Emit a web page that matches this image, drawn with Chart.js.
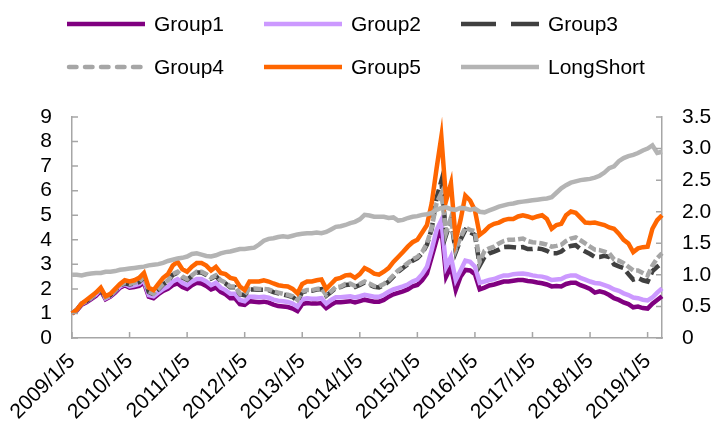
<!DOCTYPE html>
<html>
<head>
<meta charset="utf-8">
<script src="https://cdn.jsdelivr.net/npm/chart.js@4.4.1/dist/chart.umd.min.js"></script>
<style>
  body { margin: 0; background: #fff; }
  #wrap { width: 723px; height: 435px; }
</style>
</head>
<body>
<div id="wrap"><canvas id="chart" width="723" height="435"></canvas></div>
<script>
// monthly samples, 2009/1/5 .. 2019/4/5
const tickLabels = ['2009/1/5', '2010/1/5', '2011/1/5', '2012/1/5', '2013/1/5', '2014/1/5',
    '2015/1/5', '2016/1/5', '2017/1/5', '2018/1/5', '2019/1/5'];

const months = [];
for (let y = 2009; y <= 2019; y++) {
    for (let m = 1; m <= 12; m++) {
        if (y === 2019 && m > 4) break;
        months.push(y + '/' + m + '/5');
    }
}

const group1 = [
    1.00, 1.12, 1.35, 1.45, 1.58, 1.72, 1.93, 1.58, 1.68, 1.85, 2.05, 2.15,
    2.05, 2.08, 2.12, 2.25, 1.68, 1.62, 1.78, 1.92, 2.00, 2.15, 2.22, 2.08,
    2.00, 2.15, 2.25, 2.22, 2.12, 1.98, 2.05, 1.88, 1.78, 1.62, 1.62, 1.38,
    1.35, 1.50, 1.48, 1.46, 1.48, 1.44, 1.36, 1.30, 1.28, 1.26, 1.20, 1.10,
    1.38, 1.42, 1.40, 1.40, 1.42, 1.22, 1.35, 1.46, 1.46, 1.48, 1.50, 1.45,
    1.50, 1.56, 1.52, 1.48, 1.48, 1.55, 1.68, 1.78, 1.84, 1.90, 1.98, 2.10,
    2.16, 2.35, 2.63, 3.30, 4.00, 4.50, 2.50, 2.90, 1.96, 2.50, 2.77, 2.75,
    2.60, 1.98, 2.05, 2.14, 2.18, 2.24, 2.30, 2.30, 2.33, 2.36, 2.36, 2.32,
    2.30, 2.26, 2.23, 2.18, 2.10, 2.12, 2.10, 2.20, 2.25, 2.25, 2.15, 2.08,
    2.00, 1.85, 1.90, 1.85, 1.75, 1.62, 1.55, 1.45, 1.38, 1.25, 1.28, 1.22,
    1.20, 1.40, 1.55, 1.70
];
const group2 = [
    1.00, 1.15, 1.40, 1.50, 1.62, 1.78, 2.00, 1.62, 1.72, 1.90, 2.10, 2.20,
    2.10, 2.15, 2.20, 2.35, 1.75, 1.70, 1.85, 2.00, 2.10, 2.30, 2.40, 2.25,
    2.15, 2.30, 2.40, 2.40, 2.30, 2.15, 2.25, 2.05, 1.95, 1.80, 1.80, 1.55,
    1.50, 1.68, 1.68, 1.66, 1.68, 1.64, 1.56, 1.52, 1.50, 1.47, 1.40, 1.28,
    1.58, 1.62, 1.60, 1.60, 1.62, 1.40, 1.55, 1.66, 1.66, 1.68, 1.70, 1.65,
    1.70, 1.76, 1.72, 1.68, 1.68, 1.76, 1.88, 1.98, 2.04, 2.10, 2.18, 2.30,
    2.38, 2.60, 2.90, 3.60, 4.40, 4.80, 2.90, 3.30, 2.36, 2.75, 3.15, 3.10,
    2.90, 2.25, 2.30, 2.36, 2.40, 2.48, 2.55, 2.55, 2.60, 2.62, 2.63, 2.60,
    2.55, 2.52, 2.50, 2.45, 2.36, 2.38, 2.40, 2.50, 2.55, 2.55, 2.45, 2.38,
    2.30, 2.24, 2.22, 2.15, 2.08, 1.98, 1.92, 1.82, 1.75, 1.65, 1.62, 1.56,
    1.53, 1.65, 1.85, 2.02
];
const group3 = [
    1.00, 1.15, 1.40, 1.50, 1.64, 1.78, 1.98, 1.64, 1.74, 1.93, 2.13, 2.23,
    2.18, 2.22, 2.28, 2.47, 1.88, 1.78, 1.98, 2.18, 2.32, 2.57, 2.66, 2.47,
    2.37, 2.52, 2.67, 2.67, 2.57, 2.42, 2.52, 2.32, 2.22, 2.07, 2.07, 1.78,
    1.74, 1.97, 1.98, 1.97, 1.97, 1.95, 1.87, 1.82, 1.77, 1.73, 1.67, 1.52,
    1.87, 1.92, 1.92, 1.97, 1.99, 1.72, 1.87, 2.05, 2.07, 2.16, 2.18, 2.08,
    2.16, 2.26, 2.18, 2.08, 2.06, 2.16, 2.30, 2.50, 2.70, 2.85, 3.00, 3.15,
    3.25, 3.45, 3.80, 4.45, 5.70, 6.40, 4.20, 4.80, 3.50, 4.00, 4.40, 4.30,
    4.20, 2.95, 3.30, 3.45, 3.52, 3.60, 3.70, 3.72, 3.70, 3.68, 3.70, 3.62,
    3.62, 3.65, 3.62, 3.55, 3.45, 3.45, 3.52, 3.68, 3.75, 3.78, 3.62, 3.52,
    3.42, 3.30, 3.30, 3.35, 3.30, 3.00, 2.92, 2.85, 2.60, 2.38, 2.45, 2.35,
    2.30, 2.72, 2.90, 3.05
];
const group4 = [
    1.00, 1.15, 1.40, 1.50, 1.65, 1.80, 2.00, 1.65, 1.75, 1.95, 2.15, 2.25,
    2.20, 2.25, 2.30, 2.50, 1.90, 1.80, 2.00, 2.20, 2.35, 2.60, 2.70, 2.50,
    2.40, 2.55, 2.70, 2.70, 2.60, 2.45, 2.55, 2.35, 2.25, 2.10, 2.10, 1.80,
    1.78, 2.00, 2.02, 2.00, 2.00, 1.98, 1.90, 1.85, 1.80, 1.76, 1.70, 1.55,
    1.90, 1.95, 1.95, 2.00, 2.02, 1.75, 1.90, 2.08, 2.10, 2.20, 2.22, 2.12,
    2.20, 2.30, 2.22, 2.12, 2.10, 2.20, 2.35, 2.55, 2.75, 2.90, 3.05, 3.20,
    3.30, 3.50, 3.85, 4.50, 5.50, 5.90, 4.30, 4.90, 3.60, 4.10, 4.50, 4.40,
    4.35, 3.10, 3.55, 3.65, 3.72, 3.85, 3.95, 4.00, 4.00, 4.02, 4.05, 3.95,
    3.90, 3.88, 3.85, 3.80, 3.72, 3.75, 3.80, 3.95, 4.05, 4.10, 3.98, 3.85,
    3.72, 3.60, 3.58, 3.52, 3.45, 3.20, 3.15, 3.05, 2.90, 2.75, 2.75, 2.65,
    2.55, 2.95, 3.25, 3.45
];
const group5 = [
    1.00, 1.15, 1.40, 1.55, 1.70, 1.85, 2.05, 1.70, 1.80, 2.00, 2.20, 2.35,
    2.30, 2.35, 2.45, 2.65, 2.05, 1.95, 2.20, 2.45, 2.60, 2.95, 3.10, 2.80,
    2.70, 2.90, 3.05, 3.05, 2.95, 2.75, 2.90, 2.65, 2.60, 2.45, 2.40, 2.10,
    1.95, 2.30, 2.30, 2.30, 2.35, 2.30, 2.22, 2.15, 2.12, 2.10, 2.00, 1.82,
    2.20, 2.30, 2.30, 2.35, 2.38, 2.00, 2.20, 2.40, 2.45, 2.55, 2.57, 2.45,
    2.60, 2.85, 2.75, 2.62, 2.58, 2.70, 2.85, 3.10, 3.30, 3.50, 3.72, 3.90,
    4.00, 4.30, 4.60, 5.50, 6.90, 8.20, 5.60, 6.30, 4.00, 4.80, 5.80, 5.60,
    5.20, 4.20, 4.35, 4.55, 4.65, 4.70, 4.80, 4.85, 4.85, 4.95, 5.00, 4.95,
    4.88, 4.95, 5.00, 4.85, 4.45, 4.60, 4.65, 5.00, 5.15, 5.10, 4.90, 4.70,
    4.68, 4.70, 4.65, 4.60, 4.50, 4.45, 4.25, 4.00, 3.85, 3.50, 3.65, 3.70,
    3.72, 4.45, 4.80, 5.00
];
const longShort = [
    1.00, 1.00, 0.99, 1.01, 1.02, 1.03, 1.03, 1.05, 1.05, 1.06, 1.08, 1.09,
    1.10, 1.11, 1.12, 1.13, 1.15, 1.16, 1.17, 1.19, 1.22, 1.24, 1.26, 1.27,
    1.29, 1.33, 1.34, 1.32, 1.30, 1.29, 1.31, 1.34, 1.36, 1.37, 1.39, 1.41,
    1.41, 1.42, 1.43, 1.48, 1.54, 1.57, 1.58, 1.60, 1.61, 1.60, 1.62, 1.64,
    1.65, 1.66, 1.66, 1.67, 1.66, 1.68, 1.72, 1.76, 1.77, 1.79, 1.82, 1.84,
    1.88, 1.95, 1.94, 1.92, 1.92, 1.92, 1.90, 1.91, 1.86, 1.87, 1.90, 1.92,
    1.93, 1.95, 1.96, 1.98, 2.03, 2.06, 2.07, 2.04, 2.03, 2.06, 2.05, 2.03,
    2.05, 2.00, 1.99, 2.02, 2.05, 2.08, 2.10, 2.12, 2.13, 2.15, 2.16, 2.17,
    2.18, 2.19, 2.20, 2.21, 2.23, 2.30, 2.37, 2.42, 2.46, 2.48, 2.50, 2.51,
    2.52, 2.54, 2.57, 2.62, 2.69, 2.72, 2.80, 2.85, 2.88, 2.90, 2.93, 2.97,
    3.00, 3.05, 2.93, 2.95
];

const FONT = '"Liberation Sans", Arial, sans-serif';
const FONT_SIZE = 21;
const AXIS_COLOR = '#a6a6a6';

// legend drawn on a fixed 3x2 grid like the original
const legendGrid = {
    id: 'legendGrid',
    afterDraw(chart) {
        const ctx = chart.ctx;
        const cols = [67, 264, 461];
        const rows = [24, 67];
        const dashes = [[], [], [35, 15], [7.5, 8.5], [], []];
        ctx.save();
        ctx.font = FONT_SIZE + 'px ' + FONT;
        ctx.textBaseline = 'middle';
        chart.data.datasets.forEach((ds, i) => {
            const x = cols[i % 3], y = rows[Math.floor(i / 3)];
            ctx.strokeStyle = ds.borderColor;
            ctx.lineWidth = 4.5;
            ctx.lineCap = i === 3 ? 'round' : 'butt';
            ctx.setLineDash(dashes[i]);
            ctx.beginPath();
            ctx.moveTo(i === 3 ? x + 2 : x, y);
            ctx.lineTo(x + 78, y);
            ctx.stroke();
            ctx.setLineDash([]);
            ctx.fillStyle = '#000';
            ctx.fillText(ds.label, x + 87, y + 1);
        });
        ctx.restore();
    }
};

// short tick marks pointing into the plot
const innerTicks = {
    id: 'innerTicks',
    afterDraw(chart) {
        const ctx = chart.ctx;
        const { x, y, y1 } = chart.scales;
        const area = chart.chartArea;
        ctx.save();
        ctx.strokeStyle = AXIS_COLOR;
        ctx.lineWidth = 1.5;
        ctx.beginPath();
        tickLabels.forEach(lab => {
            const px = x.getPixelForValue(months.indexOf(lab));
            ctx.moveTo(px, area.bottom);
            ctx.lineTo(px, area.bottom - 6);
        });
        y.ticks.forEach(t => {
            const py = y.getPixelForValue(t.value);
            ctx.moveTo(area.left, py);
            ctx.lineTo(area.left + 6, py);
        });
        y1.ticks.forEach(t => {
            const py = y1.getPixelForValue(t.value);
            ctx.moveTo(area.right, py);
            ctx.lineTo(area.right - 6, py);
        });
        ctx.stroke();
        ctx.restore();
    }
};

function line(label, data, color, extra) {
    return Object.assign({
        label: label,
        data: data,
        borderColor: color,
        backgroundColor: color,
        borderWidth: 4.5,
        pointRadius: 0,
        fill: false,
        tension: 0,
        yAxisID: 'y'
    }, extra || {});
}

Chart.defaults.font.family = FONT;
Chart.defaults.color = '#000';

new Chart(document.getElementById('chart'), {
    type: 'line',
    data: {
        labels: months,
        datasets: [
            line('Group1', group1, '#800080', { order: 5 }),
            line('Group2', group2, '#cc99ff', { order: 4 }),
            line('Group3', group3, '#404040', { order: 3, borderDash: [12, 5] }),
            line('Group4', group4, '#a6a6a6', { order: 2, borderDash: [8, 3] }),
            line('Group5', group5, '#ff6600', { order: 1 }),
            line('LongShort', longShort, '#b4b4b4', { order: 0, yAxisID: 'y1' })
        ]
    },
    options: {
        responsive: false,
        animation: false,
        layout: { padding: { top: 117, left: 0, right: 0, bottom: 0 } },
        plugins: { legend: { display: false }, tooltip: { enabled: false } },
        scales: {
            x: {
                type: 'category',
                grid: { display: false, drawTicks: false },
                border: { color: AXIS_COLOR, width: 1.5 },
                ticks: {
                    autoSkip: false,
                    minRotation: 45,
                    maxRotation: 45,
                    padding: 11,
                    font: { size: FONT_SIZE },
                    callback: function (v) {
                        const lab = this.getLabelForValue(v);
                        return tickLabels.includes(lab) ? lab : '';
                    }
                },
                afterFit: s => { s.height = 97; }
            },
            y: {
                position: 'left',
                min: 0, max: 9,
                grid: { display: false, drawTicks: false },
                border: { color: AXIS_COLOR, width: 1.5 },
                ticks: { stepSize: 1, autoSkip: false, padding: 20, font: { size: FONT_SIZE } },
                afterFit: s => { s.width = 72; }
            },
            y1: {
                position: 'right',
                min: 0, max: 3.5,
                grid: { display: false, drawTicks: false },
                border: { color: AXIS_COLOR, width: 1.5 },
                ticks: { stepSize: 0.5, autoSkip: false, padding: 20, font: { size: FONT_SIZE } },
                afterFit: s => { s.width = 61; }
            }
        }
    },
    plugins: [legendGrid, innerTicks]
});
</script>
</body>
</html>
